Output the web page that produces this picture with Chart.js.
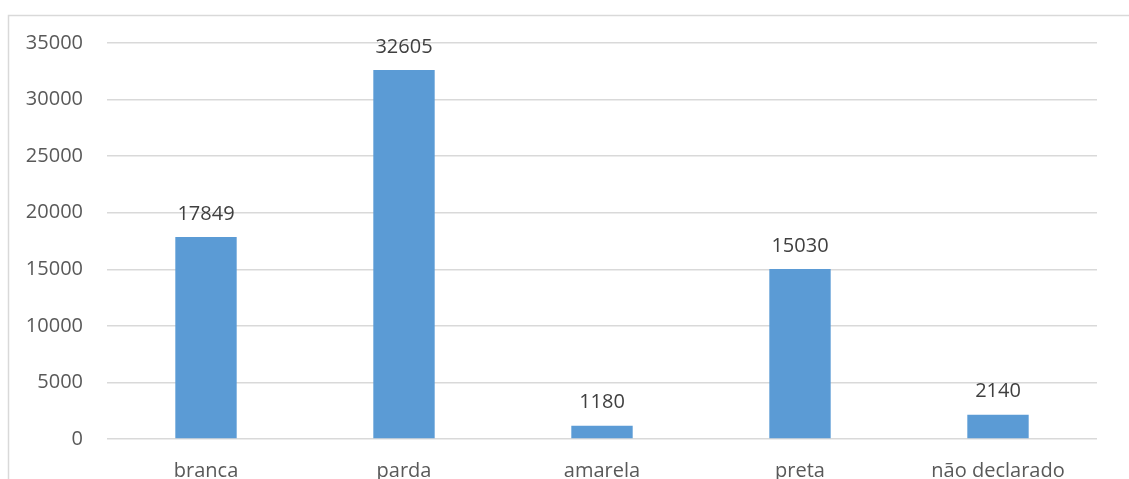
<!DOCTYPE html>
<html>
<head>
<meta charset="utf-8">
<script src="https://cdn.jsdelivr.net/npm/chart.js@4/dist/chart.umd.min.js"></script>
<style>
  html, body { margin: 0; padding: 0; background: #fff; }
  #wrap { width: 1129px; height: 479px; }
</style>
</head>
<body>
<div id="wrap"><canvas id="barChart" width="1129" height="479"></canvas></div>
<script>
  // data
  const categories = ["branca", "parda", "amarela", "preta", "não declarado"];
  const counts = [17849, 32605, 1180, 15030, 2140];
  const yTicks = [0, 5000, 10000, 15000, 20000, 25000, 30000, 35000];

  const textColor = "#595959";
  const fontFamily = "'Open Sans', 'Liberation Sans', sans-serif";

  // thin grey frame round the chart (top and left edges show)
  const framePlugin = {
    id: "frame",
    beforeDraw(chart) {
      const ctx = chart.ctx;
      ctx.save();
      ctx.fillStyle = "#fff";
      ctx.fillRect(0, 0, chart.width, chart.height);
      ctx.strokeStyle = "#d9d9d9";
      ctx.lineWidth = 1.5;
      ctx.beginPath();
      ctx.moveTo(8.5, chart.height);
      ctx.lineTo(8.5, 15.5);
      ctx.lineTo(chart.width, 15.5);
      ctx.stroke();
      ctx.restore();
    }
  };

  // value labels above each bar
  const valueLabels = {
    id: "valueLabels",
    afterDatasetsDraw(chart) {
      const ctx = chart.ctx;
      const meta = chart.getDatasetMeta(0);
      ctx.save();
      ctx.fillStyle = "#404040";
      ctx.font = "20px " + fontFamily;
      ctx.textAlign = "center";
      ctx.textBaseline = "bottom";
      meta.data.forEach((bar, i) => {
        ctx.fillText(String(counts[i]), bar.x, bar.y - 13);
      });
      ctx.restore();
    }
  };

  new Chart(document.getElementById("barChart").getContext("2d"), {
    type: "bar",
    data: {
      labels: categories,
      datasets: [{
        data: counts,
        backgroundColor: "#5b9bd5",
        borderWidth: 0,
        categoryPercentage: 1,
        barPercentage: 0.31
      }]
    },
    options: {
      responsive: false,
      animation: false,
      layout: { padding: { top: 43, right: 32, left: 0, bottom: 0 } },
      plugins: { legend: { display: false }, tooltip: { enabled: false } },
      scales: {
        x: {
          grid: { display: false },
          border: { display: false },
          ticks: { color: textColor, font: { size: 20, family: fontFamily }, padding: 12 },
          afterFit(scale) { scale.height = 40; }
        },
        y: {
          min: 0,
          max: 35000,
          afterBuildTicks(scale) { scale.ticks = yTicks.map(v => ({ value: v })); },
          grid: { color: "#d9d9d9", lineWidth: 1.5, drawTicks: false },
          border: { display: false },
          ticks: {
            color: textColor,
            font: { size: 20, family: fontFamily },
            padding: 24,
            callback: v => String(v)
          },
          afterFit(scale) { scale.width = 107; }
        }
      }
    },
    plugins: [framePlugin, valueLabels]
  });
</script>
</body>
</html>
